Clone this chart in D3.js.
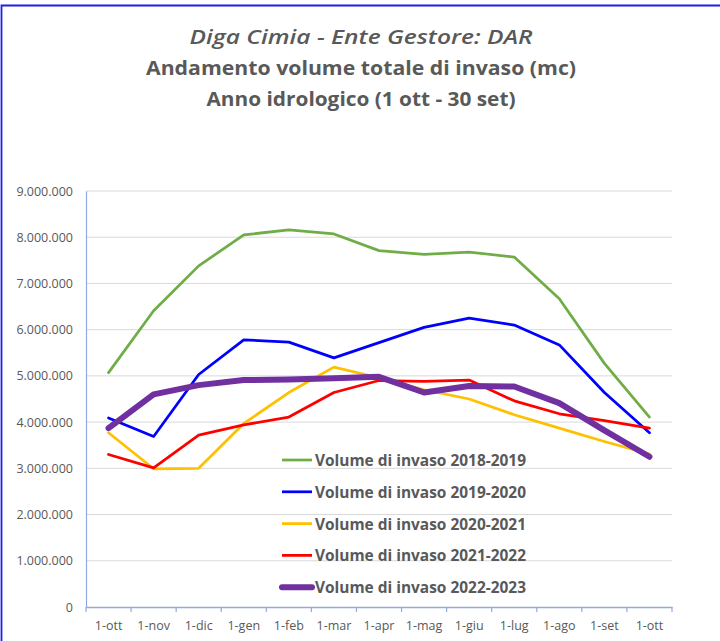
<!DOCTYPE html>
<html>
<head>
<meta charset="utf-8">
<script src="https://cdn.jsdelivr.net/npm/d3@7"></script>
<style>
  html, body { margin: 0; padding: 0; background: #fff; }
  svg { display: block; font-family: 'Open Sans', sans-serif; }
</style>
</head>
<body>
<div id="chart"></div>
<script>

// month labels (hydrological year, 1 ott -> 1 ott)
var months = ['1-ott', '1-nov', '1-dic', '1-gen', '1-feb', '1-mar', '1-apr',
              '1-mag', '1-giu', '1-lug', '1-ago', '1-set', '1-ott'];

var yTicks = [0, 1000000, 2000000, 3000000, 4000000, 5000000, 6000000, 7000000, 8000000, 9000000];

var titleLines = ['Diga Cimia - Ente Gestore: DAR',
                  'Andamento volume totale di invaso (mc)',
                  'Anno idrologico (1 ott - 30 set)'];

var seriesNames = ['Volume di invaso 2018-2019', 'Volume di invaso 2019-2020',
                   'Volume di invaso 2020-2021', 'Volume di invaso 2021-2022',
                   'Volume di invaso 2022-2023'];

// volumes in mc
var v2018 = [5070000, 6410000, 7380000, 8050000, 8160000, 8070000, 7710000,
             7630000, 7680000, 7570000, 6670000, 5270000, 4110000];
var v2019 = [4090000, 3690000, 5030000, 5780000, 5730000, 5390000, 5720000,
             6050000, 6250000, 6100000, 5670000, 4640000, 3770000];
var v2020 = [3770000, 2990000, 3000000, 3970000, 4640000, 5190000, 4960000,
             4700000, 4500000, 4160000, 3870000, 3580000, 3310000];
var v2021 = [3300000, 3010000, 3720000, 3940000, 4110000, 4640000, 4900000,
             4880000, 4910000, 4460000, 4180000, 4030000, 3870000];
var v2022 = [3870000, 4600000, 4800000, 4910000, 4920000, 4950000, 4980000,
             4640000, 4780000, 4770000, 4410000, 3820000, 3250000];

var seriesValues = [v2018, v2019, v2020, v2021, v2022];
var seriesColors = ['#70AD47', '#0000FF', '#FFC000', '#FF0000', '#7030A0'];
var seriesWidths = [2.75, 2.75, 2.75, 2.75, 6];

(function() {

  var W = 720, H = 641;
  // plot area
  var pLeft = 86, pRight = 672, pTop = 191, pBottom = 607;
  var textColor = '#595959';

  var svg = d3.select('#chart').append('svg')
              .attr('width', W)
              .attr('height', H);

  svg.append('rect').attr('width', W).attr('height', H).attr('fill', '#fff');

  // frame (top + left only visible)
  svg.append('path')
     .attr('d', 'M1.5,' + H + 'V5.5H' + W)
     .attr('fill', 'none')
     .attr('stroke', '#1F1FE6')
     .attr('stroke-width', 1.8);

  // title
  var titleWidths = [343, 430, 309];
  svg.selectAll('text.title')
     .data(titleLines)
     .enter().append('text')
     .attr('class', 'title')
     .attr('x', 361)
     .attr('y', function(d, i) { return 44 + i * 31; })
     .attr('text-anchor', 'middle')
     .attr('textLength', function(d, i) { return titleWidths[i]; })
     .attr('lengthAdjust', 'spacingAndGlyphs')
     .attr('font-size', 20)
     .attr('font-weight', function(d, i) { return i == 0 ? 600 : 'bold'; })
     .attr('font-style', function(d, i) { return i == 0 ? 'italic' : 'normal'; })
     .attr('fill', textColor)
     .text(function(d) { return d; });

  // scales
  var x = d3.scaleBand()
            .domain(d3.range(months.length))
            .range([pLeft, pRight])
            .padding(0);

  var y = d3.scaleLinear()
            .domain([0, 9000000])
            .range([pBottom, pTop]);

  var fmt = function(v) { return d3.format(',')(v).replace(/,/g, '.'); };

  // gridlines
  svg.append('g')
     .selectAll('line')
     .data(yTicks.slice(1))
     .enter().append('line')
     .attr('x1', pLeft).attr('x2', pRight)
     .attr('y1', function(d) { return y(d); })
     .attr('y2', function(d) { return y(d); })
     .attr('stroke', '#D9D9D9')
     .attr('stroke-width', 1);

  // y axis
  var yAxis = svg.append('g')
                 .attr('transform', 'translate(' + pLeft + ',0)')
                 .call(d3.axisLeft(y).tickValues(yTicks).tickFormat(fmt).tickSize(0).tickPadding(13));
  yAxis.select('.domain').attr('stroke', '#8FAADC').attr('stroke-width', 1.2);
  yAxis.selectAll('text')
       .attr('fill', textColor)
       .attr('font-size', 12.5)
       .attr('font-family', "'Open Sans', sans-serif");

  // x axis, ticks sit between categories
  var xAxis = svg.append('g')
                 .attr('transform', 'translate(0,' + pBottom + ')')
                 .call(d3.axisBottom(x).tickFormat(function(i) { return months[i]; }).tickSize(0).tickPadding(14));
  xAxis.select('.domain').attr('stroke', '#8FAADC').attr('stroke-width', 1.5);
  xAxis.selectAll('text')
       .attr('fill', textColor)
       .attr('font-size', 12.5)
       .attr('font-family', "'Open Sans', sans-serif");
  xAxis.selectAll('line.sep')
       .data(d3.range(months.length + 1))
       .enter().append('line')
       .attr('class', 'sep')
       .attr('x1', function(i) { return pLeft + i * x.bandwidth(); })
       .attr('x2', function(i) { return pLeft + i * x.bandwidth(); })
       .attr('y1', 0).attr('y2', 5)
       .attr('stroke', '#8FAADC')
       .attr('stroke-width', 1.2);

  // series lines
  var line = d3.line()
               .x(function(d, i) { return x(i) + x.bandwidth() / 2; })
               .y(function(d) { return y(d); });

  svg.append('g')
     .selectAll('path')
     .data(seriesValues)
     .enter().append('path')
     .attr('d', line)
     .attr('fill', 'none')
     .attr('stroke', function(d, i) { return seriesColors[i]; })
     .attr('stroke-width', function(d, i) { return seriesWidths[i]; })
     .attr('stroke-linejoin', 'round')
     .attr('stroke-linecap', 'round');

  // legend inside plot area
  var legend = svg.append('g').attr('transform', 'translate(282,460)');
  var rows = legend.selectAll('g')
                   .data(seriesNames)
                   .enter().append('g')
                   .attr('transform', function(d, i) { return 'translate(0,' + (i * 31.8) + ')'; });

  rows.append('line')
      .attr('x1', 0).attr('x2', 30)
      .attr('y1', 0).attr('y2', 0)
      .attr('stroke', function(d, i) { return seriesColors[i]; })
      .attr('stroke-width', function(d, i) { return seriesWidths[i]; })
      .attr('stroke-linecap', function(d, i) { return i == 4 ? 'round' : 'butt'; });

  rows.append('text')
      .attr('x', 33)
      .attr('y', 6)
      .attr('textLength', 211)
      .attr('lengthAdjust', 'spacingAndGlyphs')
      .attr('font-size', 16)
      .attr('font-weight', 'bold')
      .attr('fill', textColor)
      .text(function(d) { return d; });

})();

</script>
</body>
</html>
